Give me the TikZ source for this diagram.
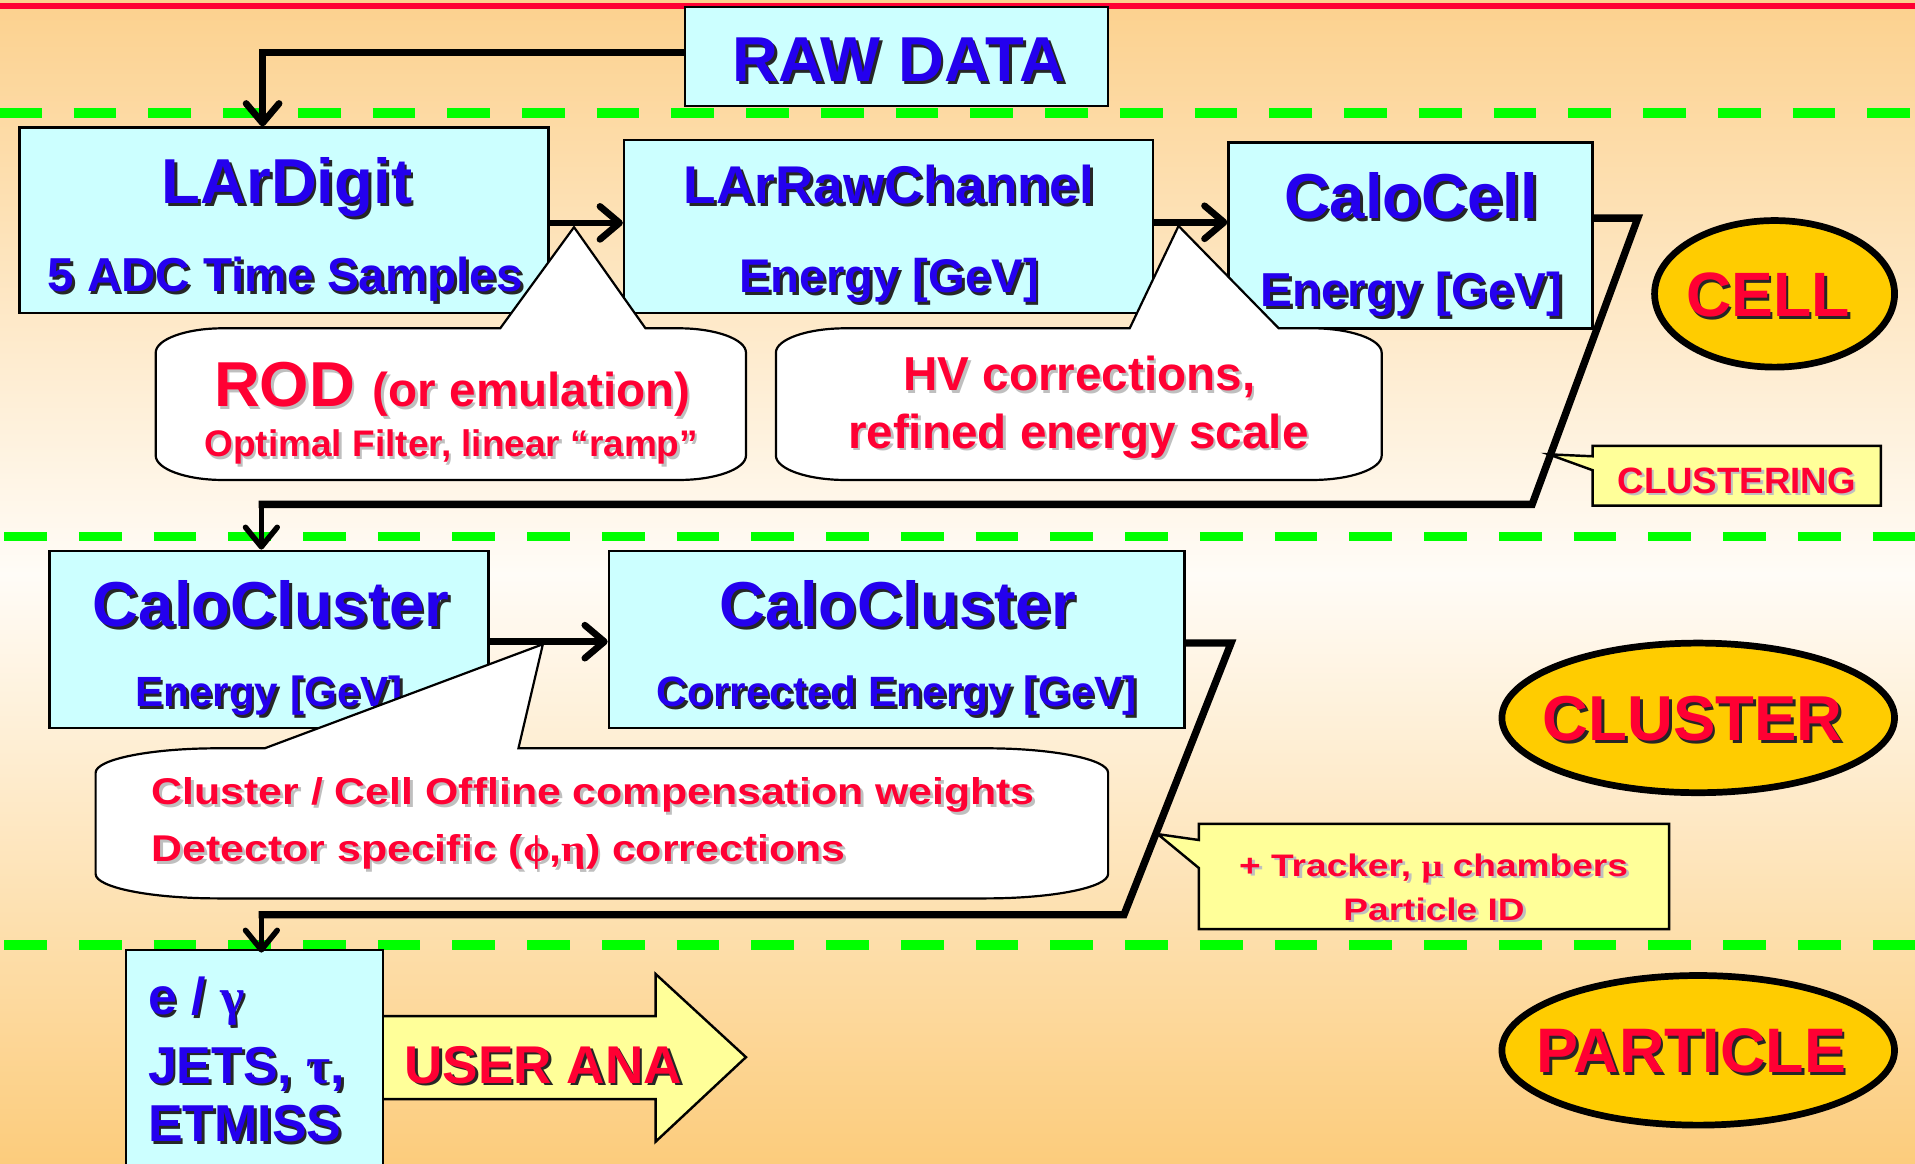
\documentclass[tikz,border=0pt]{standalone}
\usepackage{fontspec}
\usepackage{graphicx}
\setmainfont{Liberation Sans}
\newfontfamily\gk{Liberation Serif}
\usetikzlibrary{arrows.meta,shapes.geometric}

\definecolor{bgtop}{RGB}{252,209,142}
\definecolor{bgmid}{RGB}{255,252,247}
\definecolor{bgbot}{RGB}{252,204,124}
\definecolor{rulered}{RGB}{255,0,51}
\definecolor{dashgreen}{RGB}{0,255,0}
\definecolor{boxfill}{RGB}{204,255,255}
\definecolor{ink}{RGB}{36,0,238}
\definecolor{alert}{RGB}{255,0,51}
\definecolor{gold}{RGB}{255,204,0}
\definecolor{note}{RGB}{255,255,153}

% text with a drop shadow; offset and colour come from the text style
\newcommand\shdoff{2pt}
\newcommand\shdcol{black}
\newcommand\shd[1]{\leavevmode\rlap{\kern\shdoff\raisebox{-\shdoff}{\textcolor{\shdcol}{#1}}}#1}
\newcommand\fs[1]{\fontsize{#1}{#1}\selectfont}

% speech balloon with soft corners:
% left, top, right, bottom, corner x-radius, pointer base left x, pointer tip, pointer base right x
\newcommand\balloon[8]{(#6,#2) -- #7 -- (#8,#2) -- ({#3-#5},#2)
  .. controls ({#3-0.45*#5},#2) and (#3,{#2+9}) .. (#3,{#2+20})
  -- (#3,{#4-20}) .. controls (#3,{#4-9}) and ({#3-0.45*#5},#4) .. ({#3-#5},#4)
  -- ({#1+#5},#4) .. controls ({#1+0.45*#5},#4) and (#1,{#4-9}) .. (#1,{#4-20})
  -- (#1,{#2+20}) .. controls (#1,{#2+9}) and ({#1+0.45*#5},#2) .. ({#1+#5},#2) -- cycle}

\begin{document}
\begin{tikzpicture}[x=1pt,y=-1pt,
  txt/.style={inner sep=0pt, anchor=base},
  inktext/.style={txt, text=ink, font=\bfseries\fs{#1}\def\shdoff{2.2pt}\def\shdcol{black!85}},
  redtext/.style={txt, text=alert, font=\bfseries\fs{#1}\def\shdoff{2.2pt}\def\shdcol{black!85}},
  notetext/.style={txt, text=alert, font=\bfseries\fs{#1}\def\shdoff{2pt}\def\shdcol{gray!50}},
  databox/.style={rectangle, draw=black, line width=2pt, fill=boxfill, inner sep=0pt},
  oval/.style={ellipse, draw=black, line width=5.5pt, fill=gold, inner sep=0pt},
  bubble/.style={draw=black, line width=1.8pt, fill=white, line join=miter},
  notebox/.style={draw=black, line width=2pt, fill=note},
  layer/.style={dashgreen, line width=8pt, dash pattern=on 35pt off 26.2pt},
  flow/.style={line width=5.5pt, -{Straight Barb[length=16pt,width=27pt,round]}},
  drop/.style={line width=4.5pt, -{Straight Barb[length=16pt,width=26pt,round]}},
  loop/.style={line width=6pt, line join=miter}
]
\useasboundingbox (0,0) rectangle (1568,953);
\clip (0,0) rectangle (1568,953);

% background
\fill[top color=bgtop, bottom color=bgmid] (0,0) rectangle (1568,470);
\fill[top color=bgmid, bottom color=bgbot] (0,470) rectangle (1568,953);

% top rule and layer separators
\draw[rulered, line width=5pt] (0,5.2) -- (1568,5.2);
\draw[layer, dash phase=1pt] (0,92.8) -- (1568,92.8);
\draw[layer, dash phase=57.9pt] (0,439.2) -- (1568,439.2);
\draw[layer, dash phase=57.9pt] (0,773.8) -- (1568,773.8);

% user analysis block arrow
\draw[notebox] (313,832) -- (536.8,832) -- (536.8,797.5) -- (610.8,865.6)
  -- (536.8,934.8) -- (536.8,900) -- (313,900) -- cycle;

% data objects
\node[databox, minimum width=346pt, minimum height=81.3pt] (raw) at (734,46.2) {};
\node[databox, minimum width=433.2pt, minimum height=152pt] (lardigit) at (232.6,180.5) {};
\node[databox, minimum width=433pt, minimum height=142pt] (larraw) at (727.5,185.5) {};
\node[databox, minimum width=298pt, minimum height=152.4pt] (calocell) at (1155,192.8) {};
\node[databox, minimum width=359.5pt, minimum height=145pt] (clus1) at (220.25,523.5) {};
\node[databox, minimum width=471.4pt, minimum height=145pt] (clus2) at (734.3,523.5) {};
\node[databox, minimum width=210.4pt, minimum height=192pt] (part) at (208.2,874) {};

\node[inktext=52] (tRaw) at (736,67) {\shd{RAW DATA}};
\node[inktext=52] (tLd) at (235,166.5) {\shd{LArDigit}};
\node[inktext=39] (tLdSub) at (233.5,239) {\shd{5 ADC Time Samples}};
\node[inktext=43.5] (tLr) at (728,167) {\shd{LArRawChannel}};
\node[inktext=38.7] (tLrSub) at (728,239.5) {\shd{Energy [GeV]}};
\node[inktext=52] (tCc) at (1155.4,179) {\shd{CaloCell}};
\node[inktext=39] (tCcSub) at (1155.6,251) {\shd{Energy [GeV]}};
\node[inktext=52] (tCl1) at (222,513) {\shd{CaloCluster}};
\node[inktext=34.6] (tCl1Sub) at (220.3,578.6) {\shd{Energy [GeV]}};
\node[inktext=52] (tCl2) at (735,513) {\shd{CaloCluster}};
\node[inktext=34.7] (tCl2Sub) at (734.3,578.6) {\shd{Corrected Energy [GeV]}};
\node[inktext=42.5, anchor=base west] (tP1) at (121,831) {\shd{e / {\gk γ}}};
\node[inktext=42.5, anchor=base west] (tP2) at (121,887) {\shd{JETS, {\gk τ},}};
\node[inktext=42.5, anchor=base west] (tP3) at (121,934.8) {\shd{ETMISS}};
\node[redtext=43.5] (tUser) at (444.8,887) {\shd{USER ANA}};

% processing steps
\draw[bubble] \balloon{127.5}{268.8}{610.8}{393}{55}{409.6}{(470,186)}{528.5};
\draw[bubble] \balloon{635.3}{268.8}{1131.3}{393}{57}{925}{(965,185)}{1047};
\draw[bubble] \balloon{78.3}{612.7}{907.3}{735.6}{100}{216.7}{(444.5,527.5)}{424.5};

\node[notetext=52] (tRod) at (370.3,333) {\shd{ROD} {\fs{39}\shd{(or emulation)}}};
\node[notetext=30.3] (tRodSub) at (369.5,374) {\shd{Optimal Filter, linear “ramp”}};
\node[notetext=39] (tHv1) at (883.8,320) {\shd{HV corrections,}};
\node[notetext=39] (tHv2) at (883,367) {\shd{refined energy scale}};
\node[notetext=30.5, anchor=base west] (tW1) at (124,659)
  {\scalebox{1.15}[1]{\shd{Cluster / Cell Offline compensation weights}}};
\node[notetext=30.5, anchor=base west] (tW2) at (124,705.5)
  {\scalebox{1.15}[1]{\shd{Detector specific ({\gk ϕ},{\gk η}) corrections}}};

% flow between objects
\draw[flow] (raw.west |- 0,43) -- (215,43) -- (lardigit.north -| 215,0);
\draw[flow] (lardigit.east |- 0,182.5) -- (larraw.west |- 0,182.5);
\draw[flow] (larraw.east |- 0,182) -- (calocell.west |- 0,182);
\draw[flow] (clus1.east |- 0,525.4) -- (clus2.west |- 0,525.4);

% clustering step back to the left
\coordinate (c1) at (1341,178.6);
\coordinate (c2) at (1254.5,413);
\coordinate (c3) at (214,413);
\draw[loop] (calocell.east |- c1) -- (c1) -- (c2) -- ([xshift=-2.3pt]c3);
\draw[drop] (c3) -- (clus1.north -| c3);

% particle identification step back to the left
\coordinate (d1) at (1008,526.5);
\coordinate (d2) at (920.3,749);
\coordinate (d3) at (214,749);
\draw[loop] (clus2.east |- d1) -- (d1) -- (d2) -- ([xshift=-2.3pt]d3);
\draw[drop] (d3) -- ([yshift=-3pt]part.north -| d3);

% step notes
\draw[notebox] (1304,365) -- (1540,365) -- (1540,414) -- (1304,414) -- (1304,385)
  -- (1268,372) -- (1304,373.6) -- cycle;
\node[notetext=30] (tClu) at (1422,404) {\shd{CLUSTERING}};
\draw[notebox] (981.6,674.5) -- (1366.6,674.5) -- (1366.6,760.7) -- (981.6,760.7)
  -- (981.6,710.7) -- (948,683) -- (981.6,687.8) -- cycle;
\node[notetext=25.5] (tTr1) at (1173.8,717.7) {\scalebox{1.19}[1]{\shd{+ Tracker, {\gk μ} chambers}}};
\node[notetext=25.5] (tTr2) at (1174.2,753.5) {\scalebox{1.19}[1]{\shd{Particle ID}}};

% levels
\node[oval, minimum width=196.5pt, minimum height=120pt] (cell) at (1453,240.6) {};
\node[oval, minimum width=321.5pt, minimum height=122.5pt] (cluster) at (1390.5,587.8) {};
\node[oval, minimum width=321.5pt, minimum height=122.5pt] (particle) at (1390.5,860) {};
\node[redtext=51.3] (tCell) at (1447.5,259) {\shd{CELL}};
\node[redtext=52] (tCluster) at (1385.9,606.5) {\shd{CLUSTER}};
\node[redtext=51.5] (tParticle) at (1384.8,878) {\shd{PARTICLE}};
\end{tikzpicture}
\end{document}
